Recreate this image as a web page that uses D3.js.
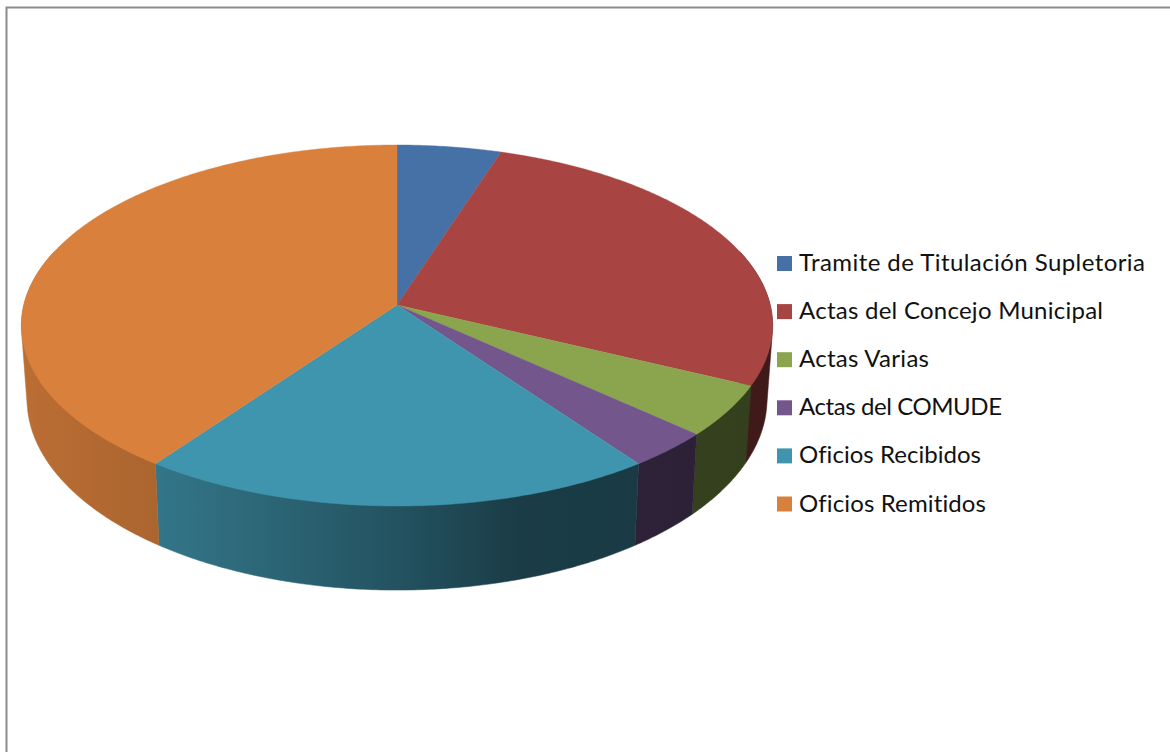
<!DOCTYPE html>
<html lang="en">
<head>
    <meta charset="UTF-8">
    <title>Documentos</title>
    <script src="https://d3js.org/d3.v7.min.js"></script>
    <style>
        html, body { margin: 0; padding: 0; background: #fff; overflow: hidden; }
        svg { display: block; }
        .legend text { font-family: Lato, sans-serif; font-size: 24px; fill: #111; font-variant-ligatures: none; }
    </style>
</head>
<body>
    <div id="chart"></div>
    <script>
        const categories = ["Tramite de Titulación Supletoria", "Actas del Concejo Municipal", "Actas Varias", "Actas del COMUDE", "Oficios Recibidos", "Oficios Remitidos"];
        const shares = [5, 27.1, 4.6, 3.3, 20, 40];
        const colors = ["#4671a7", "#a84442", "#8aa54e", "#72568c", "#4095ae", "#d9803c"];

        const width = 1170, height = 752;

        // Lato runs narrower than the original font, so each label is stretched to its measured width
        const labelWidths = [346, 304, 130, 203, 182, 187];

        const svg = d3.select("#chart").append("svg")
            .attr("width", width)
            .attr("height", height);

        // Frame, only top and left edges are in the picture
        svg.append("path")
            .attr("d", d3.line()([[6.5, height], [6.5, 7.5], [width, 7.5]]))
            .attr("fill", "none")
            .attr("stroke", "#8c8c8c")
            .attr("stroke-width", 2);

        // Perspective projection of the pie disc onto the screen
        const cx = 397, cy = 305;
        const A = 373.2, B = 178.2, k = 0.1136;
        const wallDy = 72.4, wallSx = 0.985, wallSy = 1.058;

        const topPoint = t => {
            const w = 1 + k * Math.cos(t);
            return [cx + A * Math.sin(t) / w, cy - B * Math.cos(t) / w];
        };
        const bottomPoint = t => {
            const [x, y] = topPoint(t);
            return [cx + (x - cx) * wallSx, cy + wallDy + (y - cy) * wallSy];
        };

        const rim = (a0, a1, fn) => {
            const n = Math.max(2, Math.ceil((a1 - a0) / 0.01));
            return d3.range(n + 1).map(i => fn(a0 + (a1 - a0) * i / n));
        };

        const arcs = d3.pie().sort(null).value(d => d)(shares);
        const line = d3.line();

        // Side wall gets darker going right
        const shade = d3.scaleLinear()
            .domain([20, 158, 400, 520, 770])
            .range([0.86, 0.79, 0.55, 0.4, 0.38]);

        const defs = svg.append("defs");
        const shadeStops = [20, 158, 280, 400, 520, 770];

        const visibleFrom = Math.PI * 0.4, visibleTo = Math.PI * 1.6;

        arcs.forEach((d, i) => {
            const a0 = Math.max(d.startAngle, visibleFrom);
            const a1 = Math.min(d.endAngle, visibleTo);
            if (a1 <= a0) return;

            const base = d3.rgb(colors[i]);
            const grad = defs.append("linearGradient")
                .attr("id", "wall" + i)
                .attr("gradientUnits", "userSpaceOnUse")
                .attr("x1", 20).attr("x2", 770)
                .attr("y1", 0).attr("y2", 0);
            grad.selectAll("stop")
                .data(shadeStops)
                .enter().append("stop")
                .attr("offset", x => (x - 20) / 750)
                .attr("stop-color", x => d3.rgb(base.r * shade(x), base.g * shade(x), base.b * shade(x)));

            // Hull gives the straight silhouette at the far left and right; its inner chord sits under the top face
            const pts = d3.polygonHull(rim(a0, a1, topPoint).concat(rim(a0, a1, bottomPoint)));
            svg.append("path")
                .attr("d", line(pts) + "Z")
                .attr("fill", `url(#wall${i})`)
                .attr("stroke", `url(#wall${i})`)
                .attr("stroke-width", 0.5);
        });

        // Top face
        arcs.forEach((d, i) => {
            const pts = [[cx, cy]].concat(rim(d.startAngle, d.endAngle, topPoint));
            svg.append("path")
                .attr("d", line(pts) + "Z")
                .attr("fill", colors[i])
                .attr("stroke", colors[i])
                .attr("stroke-width", 0.4);
        });

        // Legend
        const legendY = d3.scalePoint()
            .domain(categories)
            .range([263.5, 504]);

        const legend = svg.append("g").attr("class", "legend");
        legend.selectAll("rect")
            .data(categories)
            .enter().append("rect")
            .attr("x", 777)
            .attr("y", d => legendY(d) - 7.5)
            .attr("width", 15)
            .attr("height", 15)
            .attr("fill", (d, i) => colors[i]);
        legend.selectAll("text")
            .data(categories)
            .enter().append("text")
            .attr("x", 799)
            .attr("y", d => legendY(d) + 7.5)
            .attr("textLength", (d, i) => labelWidths[i])
            .attr("lengthAdjust", "spacing")
            .text(d => d);
    </script>
</body>
</html>
